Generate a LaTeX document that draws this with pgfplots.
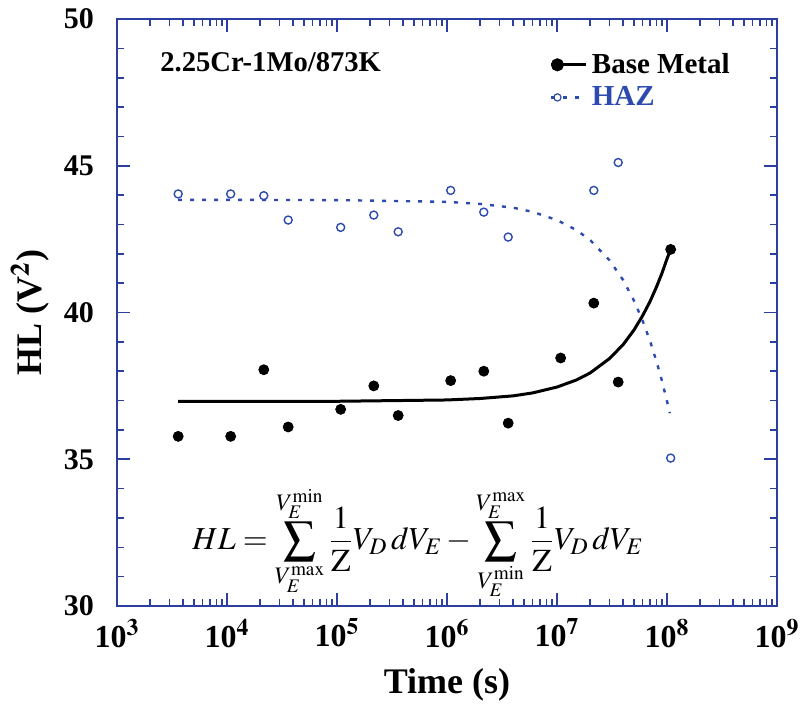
\documentclass[border=0pt]{standalone}
\usepackage{mathptmx}
\usepackage{fontspec}
\setmainfont{Liberation Serif}
\usepackage{pgfplots}
\pgfplotsset{compat=1.18}
\definecolor{axblue}{RGB}{44,62,160}
\definecolor{hazblue}{RGB}{45,75,175}
\begin{document}
\begin{tikzpicture}
\begin{axis}[
  width=330pt, height=293.5pt, scale only axis,
  xmode=log,
  xmin=1e3, xmax=1e9, ymin=30, ymax=50,
  axis line style={axblue, line width=1pt},
  every tick/.style={axblue, line width=0.8pt},
  major tick length=6.5pt, minor tick length=3.5pt,
  tick align=inside,
  xtick pos=both, ytick pos=both,
  xtick={1e3,1e4,1e5,1e6,1e7,1e8,1e9},
  xticklabels={10$^{\mathbf{3}}$,10$^{\mathbf{4}}$,10$^{\mathbf{5}}$,10$^{\mathbf{6}}$,10$^{\mathbf{7}}$,10$^{\mathbf{8}}$,10$^{\mathbf{9}}$},
  xticklabel style={font=\fontsize{16}{18}\selectfont\bfseries, yshift=-3pt},
  extra x ticks={2e3,3e3,4e3,5e3,6e3,7e3,8e3,9e3,
               2e4,3e4,4e4,5e4,6e4,7e4,8e4,9e4,
               2e5,3e5,4e5,5e5,6e5,7e5,8e5,9e5,
               2e6,3e6,4e6,5e6,6e6,7e6,8e6,9e6,
               2e7,3e7,4e7,5e7,6e7,7e7,8e7,9e7,
               2e8,3e8,4e8,5e8,6e8,7e8,8e8,9e8},
  extra x tick labels={},
  extra x tick style={major tick length=3.5pt},
  ytick={30,35,40,45,50},
  yticklabels={30,35,40,45,50},
  minor y tick num=4,
  yticklabel style={font=\fontsize{15}{17}\selectfont\bfseries, xshift=-8pt},
  xlabel={Time (s)},
  xlabel style={at={(axis description cs:0.5,-0.1346)}, anchor=center, font=\fontsize{18}{20}\selectfont\bfseries},
  ylabel={HL (V$^{\mathbf{2}}$)},
  ylabel style={at={(axis description cs:-0.1318,0.5)}, anchor=center, font=\fontsize{18}{20}\selectfont\bfseries},
  legend style={draw=none, fill=none, at={(0.944,0.956)}, anchor=north east,
    font=\fontsize{14.5}{17}\selectfont\bfseries, row sep=1pt},
  legend cell align=left,
  legend image code/.code={
    \draw[mark repeat=2,mark phase=2,#1] plot coordinates {(0pt,0pt) (3pt,0pt) (17.5pt,0pt)};
  },
]
\addlegendimage{black, line width=1.5pt, mark=*, mark size=2.5pt}
\addlegendentry{Base Metal}
\addlegendimage{hazblue, line width=1.2pt, dash pattern=on 2pt off 4pt, mark=o, mark size=1.8pt, mark options={solid, line width=0.6pt}}
\addlegendentry{\textcolor{hazblue}{HAZ}}

% Base metal fit
\addplot[black, line width=1.5pt, forget plot] coordinates {
(3600,36.97) (1e5,36.975) (1e6,37.02) (2e6,37.07) (4e6,37.16) (6e6,37.26)
(1e7,37.46) (1.5e7,37.70) (2e7,37.94) (3e7,38.43) (4e7,38.91) (5e7,39.40)
(6e7,39.89) (7e7,40.37) (8e7,40.86) (9e7,41.34) (1e8,41.83) (1.08e8,42.15)
};
% HAZ fit
\addplot[hazblue, line width=1.2pt, dash pattern=on 2pt off 4pt, forget plot] coordinates {
(3600,43.84) (1e5,43.83) (1e6,43.77) (2e6,43.70) (4e6,43.57) (6e6,43.43)
(1e7,43.15) (1.5e7,42.81) (2e7,42.47) (3e7,41.78) (4e7,41.10) (5e7,40.41)
(6e7,39.72) (7e7,39.04) (8e7,38.35) (9e7,37.67) (1e8,36.98) (1.06e8,36.57)
};
% Base metal data
\addplot[only marks, mark=*, mark size=2.5pt, black, forget plot] coordinates {
(3600,35.78) (10800,35.78) (21600,38.05) (36000,36.10) (108000,36.70)
(216000,37.50) (360000,36.49) (1080000,37.68) (2160000,38.00) (3600000,36.23)
(10800000,38.45) (21600000,40.32) (36000000,37.63) (108000000,42.15)
};
% HAZ data
\addplot[only marks, mark=o, mark size=2pt, hazblue, line width=0.7pt, forget plot] coordinates {
(3600,44.04) (10800,44.04) (21600,43.98) (36000,43.15) (108000,42.90)
(216000,43.32) (360000,42.75) (1080000,44.16) (2160000,43.42) (3600000,42.57)
(21600000,44.16) (36000000,45.11) (108000000,35.04)
};

\node[anchor=west, font=\fontsize{14.3}{17}\selectfont\bfseries] at (rel axis cs:0.055,0.927) {2.25Cr-1Mo/873K};
\node[font=\fontsize{16}{19}\selectfont] at (rel axis cs:0.456,0.108)
  {$\displaystyle HL=\sum_{V_E^{\max}}^{V_E^{\min}}\frac{1}{\mathrm{Z}}V_D\,dV_E-\sum_{V_E^{\min}}^{V_E^{\max}}\frac{1}{\mathrm{Z}}V_D\,dV_E$};
\end{axis}
\pgfresetboundingbox
\path[use as bounding box] ([shift={(-58.5pt,-51.5pt)}]current axis.south west) rectangle ([shift={(11.5pt,9.5pt)}]current axis.north east);
\end{tikzpicture}
\end{document}
